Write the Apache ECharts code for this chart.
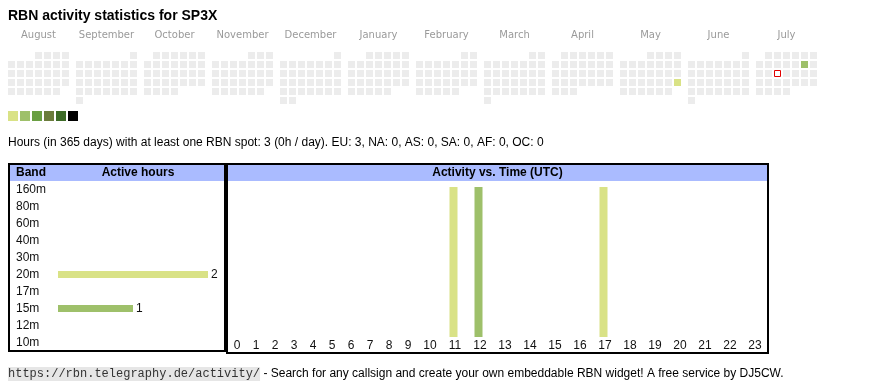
<!DOCTYPE html>
<html>
<head>
<meta charset="utf-8">
<script src="https://cdn.jsdelivr.net/npm/echarts@6/dist/echarts.min.js"></script>
<style>html,body{margin:0;padding:0;background:#fff}#c{width:870px;height:390px}</style>
</head>
<body>
<div id="c"></div>
<script>
// ---------------- DATA ----------------
const callsign = 'SP3X';
const months = ['2024-08','2024-09','2024-10','2024-11','2024-12','2025-01','2025-02','2025-03','2025-04','2025-05','2025-06','2025-07'];
const monthNames = ['August','September','October','November','December','January','February','March','April','May','June','July'];
const activeDates = ['2025-05-25', '2025-07-12'];
const activeLevels = [1, 2];
const today = '2025-07-16';
const levels = [1, 2, 3, 4, 5, 6];
const bands = ['160m','80m','60m','40m','30m','20m','17m','15m','12m','10m'];
const bandHours = [0, 0, 0, 0, 0, 2, 0, 1, 0, 0];
const hourLabels = ['0','1','2','3','4','5','6','7','8','9','10','11','12','13','14','15','16','17','18','19','20','21','22','23'];
const hourly20m = [0,0,0,0,0,0,0,0,0,0,0,1,0,0,0,0,0,1,0,0,0,0,0,0];
const hourly15m = [0,0,0,0,0,0,0,0,0,0,0,0,1,0,0,0,0,0,0,0,0,0,0,0];
const titleText = 'RBN activity statistics for ' + callsign;
const statsText = 'Hours (in 365 days) with at least one RBN spot: 3 (0h / day). EU: 3, NA: 0, AS: 0, SA: 0, AF: 0, OC: 0';
const linkText = 'https://rbn.telegraphy.de/activity/';
const footerText = ' - Search for any callsign and create your own embeddable RBN widget! A free service by DJ5CW.';

// ---------------- STYLE ----------------
const FONT = '"Liberation Sans", Arial, sans-serif';
const levelColors = ['#d9e286', '#9ec06a', '#6a9f43', '#6b7c3c', '#3d6b27', '#000000'];
const emptyColor = '#ececec';
const headerBlue = '#aabbff';
const bandColorMap = { '20m': '#d9e286', '15m': '#9ec06a' };
const defaultBandColor = '#9ec06a';

// calendar layout
const CAL_LEFT = 8, CAL_PITCH = 68, CAL_TOP = 52, CELL = 9, BOX = 7;

// helpers
function daysOf(ym) {
  const [y, m] = ym.split('-').map(Number);
  const n = new Date(y, m, 0).getDate();
  const out = [];
  for (let d = 1; d <= n; d++) out.push(ym + '-' + String(d).padStart(2, '0'));
  return out;
}
function levelOf(date) {
  const i = activeDates.indexOf(date);
  return i >= 0 ? activeLevels[i] : 0;
}
// hour table columns: auto width like an html table (padding + digits)
const colWidths = hourLabels.map(l => 13 + 6 * l.length);
const colCenters = [];
(function () { let acc = 0; colWidths.forEach(w => { colCenters.push(acc + w / 2); acc += w; }); })();
const tableWidth = colWidths.reduce((a, b) => a + b, 0);
const labelAt = {};
colCenters.forEach((p, i) => { labelAt[p] = hourLabels[i]; });

const calendars = months.map((m, i) => ({
  orient: 'vertical', range: m, left: CAL_LEFT + CAL_PITCH * i, top: CAL_TOP,
  cellSize: [CELL, CELL], silent: true,
  splitLine: { show: false },
  itemStyle: { color: 'transparent', borderWidth: 0, borderColor: 'transparent' },
  dayLabel: { show: false, firstDay: 1 }, monthLabel: { show: false }, yearLabel: { show: false }
}));

const calSeries = months.map((m, i) => ({
  type: 'custom', coordinateSystem: 'calendar', calendarIndex: i, silent: true,
  data: daysOf(m).map(d => [d, levelOf(d), d === today ? 1 : 0]),
  renderItem: function (params, api) {
    const c = api.coord([api.value(0)]);
    const x = c[0] - CELL / 2, y = c[1] - CELL / 2;
    if (api.value(2)) {
      return { type: 'rect', shape: { x: x + 0.5, y: y + 0.5, width: BOX - 1, height: BOX - 1 },
        style: { fill: '#ffffff', stroke: '#e00000', lineWidth: 1 } };
    }
    return { type: 'rect', shape: { x: x, y: y, width: BOX, height: BOX }, style: { fill: api.visual('color') } };
  }
}));

const titles = [
  { text: titleText, left: 8, top: 8, padding: 0,
    textStyle: { fontFamily: FONT, fontSize: 14, fontWeight: 'bold', color: '#000', lineHeight: 16 } },
  { text: statsText, left: 8, top: 136, padding: 0,
    textStyle: { fontFamily: FONT, fontSize: 12, fontWeight: 'normal', color: '#000', lineHeight: 14 } },
  { text: 'Band', left: 16, top: 166, padding: 0,
    textStyle: { fontFamily: FONT, fontSize: 12, fontWeight: 'bold', color: '#000', lineHeight: 14 } },
  { text: 'Active hours', left: 138, top: 166, padding: 0, textAlign: 'center',
    textStyle: { fontFamily: FONT, fontSize: 12, fontWeight: 'bold', color: '#000', lineHeight: 14 } },
  { text: 'Activity vs. Time (UTC)', left: 497.5, top: 166, padding: 0, textAlign: 'center',
    textStyle: { fontFamily: FONT, fontSize: 12, fontWeight: 'bold', color: '#000', lineHeight: 14 } },
  { text: '{a|' + linkText + '}{b|' + footerText + '}', left: 8, top: 367, padding: 0,
    textStyle: { fontWeight: 'normal', fontSize: 12, fontFamily: FONT, rich: {
      a: { fontFamily: '"Liberation Mono", "DejaVu Sans Mono", monospace', fontWeight: 'normal', fontSize: 12, color: '#333', backgroundColor: '#e6e6e6', padding: [1, 0, 1, 0], lineHeight: 14 },
      b: { fontFamily: FONT, fontWeight: 'normal', fontSize: 12, color: '#000', lineHeight: 14 }
    } } }
].concat(monthNames.map((n, i) => ({
  text: n, left: CAL_LEFT + CAL_PITCH * i + (7 * CELL - 2) / 2, top: 29, padding: 0, textAlign: 'center',
  textStyle: { fontFamily: '"DejaVu Sans", Verdana, sans-serif', fontSize: 10, fontWeight: 'normal', color: '#9a9a9a', lineHeight: 12 }
})));

const option = {
  animation: false,
  backgroundColor: '#ffffff',
  title: titles,
  calendar: calendars,
  visualMap: {
    type: 'piecewise', orient: 'horizontal', left: 8, top: 111, padding: 0,
    itemWidth: 10, itemHeight: 10, itemGap: 2, itemSymbol: 'rect', showLabel: false,
    selectedMode: false, hoverLink: false, seriesIndex: calSeries.map((s, i) => i), dimension: 1,
    pieces: levels.map((v, i) => ({ value: v, color: levelColors[i] })),
    outOfRange: { color: emptyColor }
  },
  graphic: [
    { type: 'rect', silent: true, shape: { x: 10, y: 165, width: 214, height: 16 }, style: { fill: headerBlue } },
    { type: 'rect', silent: true, shape: { x: 228, y: 165, width: 539, height: 16 }, style: { fill: headerBlue } },
    { type: 'rect', silent: true, shape: { x: 9, y: 164, width: 216, height: 187 }, style: { fill: 'none', stroke: '#000', lineWidth: 2 } },
    { type: 'rect', silent: true, shape: { x: 227, y: 164, width: 541, height: 189 }, style: { fill: 'none', stroke: '#000', lineWidth: 2 } }
  ],
  grid: [
    { left: 58, top: 181, width: 150, height: 170, containLabel: false },
    { left: 226, top: 187, width: 540, height: 150, containLabel: false }
  ],
  xAxis: [
    { gridIndex: 0, type: 'value', min: 0, max: Math.max.apply(null, bandHours), show: false },
    { gridIndex: 1, type: 'value', min: 0, max: tableWidth,
      axisLine: { show: false }, axisTick: { show: false }, splitLine: { show: false },
      axisLabel: { customValues: colCenters, formatter: v => labelAt[v] !== undefined ? labelAt[v] : '',
        fontFamily: FONT, fontSize: 12, color: '#111', margin: 2, lineHeight: 14, padding: [0, 0, 0, 3] } }
  ],
  yAxis: [
    { gridIndex: 0, type: 'category', data: bands, inverse: true,
      axisLine: { show: false }, axisTick: { show: false }, splitLine: { show: false },
      axisLabel: { align: 'left', margin: 42, fontFamily: FONT, fontSize: 12, color: '#111' } },
    { gridIndex: 1, type: 'value', min: 0, max: 1, show: false }
  ],
  series: calSeries.concat([
    { type: 'bar', xAxisIndex: 0, yAxisIndex: 0, barWidth: 7, silent: true,
      data: bandHours.map((v, i) => ({ value: v, itemStyle: { color: bandColorMap[bands[i]] || defaultBandColor } })),
      label: { show: true, position: 'right', distance: 3, fontFamily: FONT, fontSize: 12, color: '#111',
        formatter: p => (p.value > 0 ? String(p.value) : '') } },
    { type: 'bar', name: '20m', xAxisIndex: 1, yAxisIndex: 1, stack: 'h', barWidth: 8, silent: true,
      itemStyle: { color: bandColorMap['20m'] },
      data: hourly20m.map((v, i) => [colCenters[i], v]) },
    { type: 'bar', name: '15m', xAxisIndex: 1, yAxisIndex: 1, stack: 'h', barWidth: 8, silent: true,
      itemStyle: { color: bandColorMap['15m'] },
      data: hourly15m.map((v, i) => [colCenters[i], v]) }
  ])
};

const chart = echarts.init(document.getElementById('c'), null, { renderer: 'canvas' });
chart.setOption(option);
</script>
</body>
</html>
